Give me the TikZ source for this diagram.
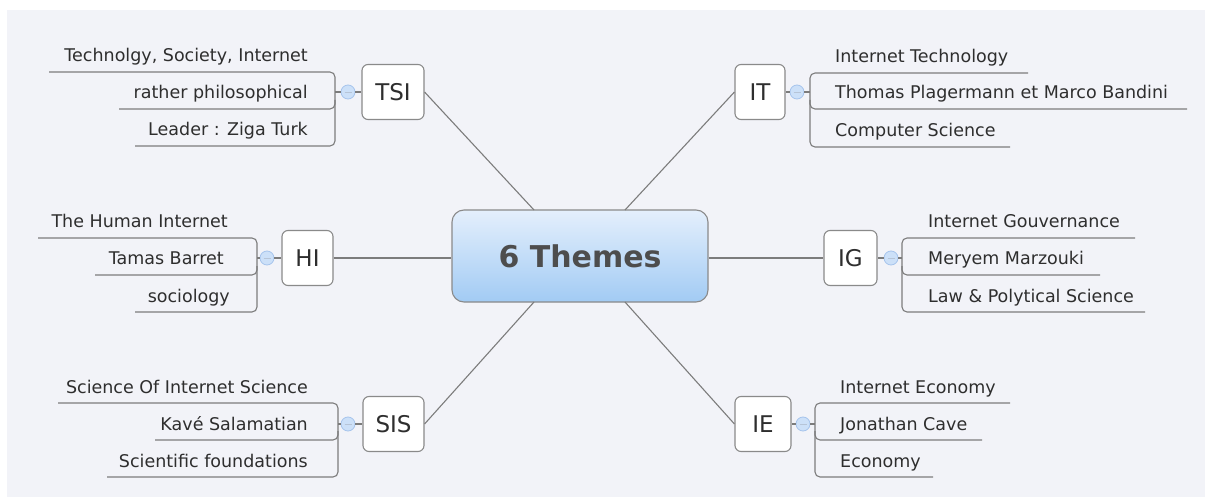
\documentclass[tikz,border=0pt]{standalone}
\usepackage{fontspec}
\setmainfont{DejaVu Sans}
\definecolor{bgc}{HTML}{F2F3F8}
\definecolor{linec}{HTML}{7C7C7C}
\definecolor{txtc}{HTML}{2E2E2E}
\definecolor{boxc}{HTML}{8A8A8A}
\definecolor{ctop}{HTML}{E4EFFC}
\definecolor{cbot}{HTML}{A2CBF4}
\definecolor{mfill}{HTML}{CCE0F8}
\definecolor{mdraw}{HTML}{A6C4EC}
\tikzset{
  conn/.style={draw=linec, line width=1.1pt},
  ul/.style={draw=linec, line width=1.1pt, rounded corners=5pt},
  central/.style={draw=boxc, line width=1.1pt, rounded corners=12pt, top color=ctop, bottom color=cbot,
    minimum width=256pt, minimum height=92pt, inner sep=0pt, text=txtc!85,
    font=\fontsize{30}{34}\selectfont\bfseries},
  theme/.style={draw=boxc, fill=white, line width=1.1pt, rounded corners=6pt, minimum height=55pt,
    inner sep=0pt, text=txtc, font=\fontsize{23}{26}\selectfont},
  minus/.style={circle, draw=mdraw, fill=mfill, line width=0.8pt, minimum size=14pt, inner sep=0pt,
    path picture={\draw[mdraw!80!black!60, line width=0.8pt] ([xshift=-3.5pt]path picture bounding box.center) -- ([xshift=3.5pt]path picture bounding box.center);}},
  lt/.style={text=txtc, inner sep=0pt, font=\fontsize{17.5}{20}\selectfont},
}
\begin{document}
\begin{tikzpicture}[x=1pt,y=-1pt]
\useasboundingbox (0,0) rectangle (1205,497);
\fill[bgc] (7,10) rectangle (1205,497);

% central
\node[central] (c) at (580,256) {6 Themes};
\coordinate (ctl) at (534,210);
\coordinate (ctr) at (625,210);
\coordinate (cbl) at (534,302);
\coordinate (cbr) at (625,302);

% theme boxes
\node[theme, minimum width=62pt] (tsi) at (393,92) {TSI};
\node[theme, minimum width=50pt] (it) at (760,92) {IT};
\node[theme, minimum width=51pt] (hi) at (307.5,258) {HI};
\node[theme, minimum width=53pt] (ig) at (850.5,258) {IG};
\node[theme, minimum width=61pt] (sis) at (393.5,424) {SIS};
\node[theme, minimum width=56pt] (ie) at (763,424) {IE};

% main connectors
\draw[conn] (ctl) -- (tsi.east);
\draw[conn] (ctr) -- (it.west);
\draw[conn] (hi.east) -- (hi.east -| c.west);
\draw[conn] (ig.west -| c.east) -- (ig.west);
\draw[conn] (cbl) -- (sis.east);
\draw[conn] (cbr) -- (ie.west);

% minus circles
\node[minus] (tsim) at (348,92) {};
\node[minus] (itm) at (797,92) {};
\node[minus] (him) at (267,258) {};
\node[minus] (igm) at (891,258) {};
\node[minus] (sism) at (348,424) {};
\node[minus] (iem) at (803,424) {};
\draw[conn] (tsim) -- (tsi);
\draw[conn] (itm) -- (it);
\draw[conn] (him) -- (hi);
\draw[conn] (igm) -- (ig);
\draw[conn] (sism) -- (sis);
\draw[conn] (iem) -- (ie);

% bracket joints
\coordinate (tsib) at (335,92);
\coordinate (itb) at (810,92);
\coordinate (hib) at (257,258);
\coordinate (igb) at (902,258);
\coordinate (sisb) at (338,424);
\coordinate (ieb) at (815,424);
\draw[conn] (tsib) -- (tsim);
\draw[conn] (itb) -- (itm);
\draw[conn] (hib) -- (him);
\draw[conn] (igb) -- (igm);
\draw[conn] (sisb) -- (sism);
\draw[conn] (ieb) -- (iem);

% TSI bracket
\draw[ul] (49,72) -- (335,72) -- (335,146) -- (135,146);
\draw[ul] (119,109) -- (335,109) -- (335,100);
\node[lt, anchor=base east] (tsi1) at (308,62) {Technolgy, Society, Internet};
\node[lt, anchor=base east] (tsi2) at (308,99) {rather philosophical};
\node[lt, anchor=base east] (tsi3) at (308,136) {Leader : Ziga Turk};

% IT bracket
\draw[ul] (1028,73) -- (810,73) -- (810,147) -- (1010,147);
\draw[ul] (1187,109) -- (810,109) -- (810,100);
\node[lt, anchor=base west] (it1) at (835,63) {Internet Technology};
\node[lt, anchor=base west] (it2) at (835,99) {Thomas Plagermann et Marco Bandini};
\node[lt, anchor=base west] (it3) at (835,137) {Computer Science};

% HI bracket
\draw[ul] (38,238) -- (257,238) -- (257,312) -- (135,312);
\draw[ul] (95,275) -- (257,275) -- (257,266);
\node[lt, anchor=base east] (hi1) at (228,228) {The Human Internet};
\node[lt, anchor=base east] (hi2) at (224,265) {Tamas Barret};
\node[lt, anchor=base east] (hi3) at (230,302) {sociology};

% IG bracket
\draw[ul] (1135,238) -- (902,238) -- (902,312) -- (1145,312);
\draw[ul] (1100,275) -- (902,275) -- (902,266);
\node[lt, anchor=base west] (ig1) at (928,228) {Internet Gouvernance};
\node[lt, anchor=base west] (ig2) at (928,265) {Meryem Marzouki};
\node[lt, anchor=base west] (ig3) at (928,302) {Law \& Polytical Science};

% SIS bracket
\draw[ul] (58,403) -- (338,403) -- (338,477) -- (107,477);
\draw[ul] (155,440) -- (338,440) -- (338,431);
\node[lt, anchor=base east] (sis1) at (308,393) {Science Of Internet Science};
\node[lt, anchor=base east] (sis2) at (308,430) {Kavé Salamatian};
\node[lt, anchor=base east] (sis3) at (308,467) {Scientific foundations};

% IE bracket
\draw[ul] (1010,403) -- (815,403) -- (815,477) -- (933,477);
\draw[ul] (982,440) -- (815,440) -- (815,431);
\node[lt, anchor=base west] (ie1) at (840,393) {Internet Economy};
\node[lt, anchor=base west] (ie2) at (840,430) {Jonathan Cave};
\node[lt, anchor=base west] (ie3) at (840,467) {Economy};
\end{tikzpicture}
\end{document}
